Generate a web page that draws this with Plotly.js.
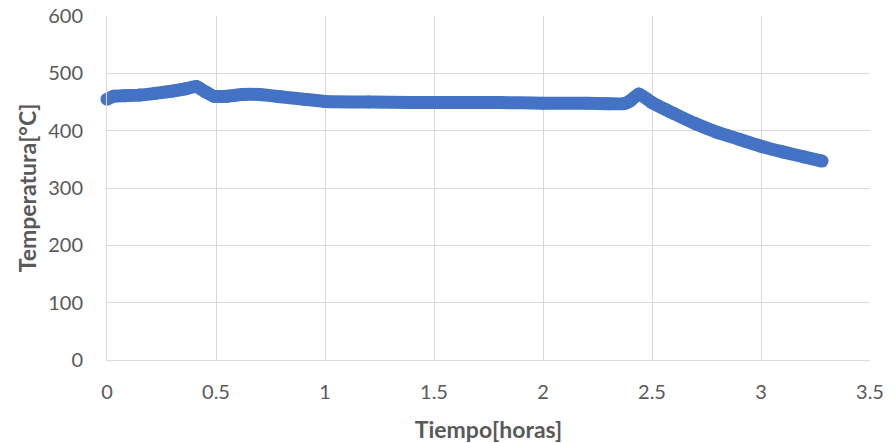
<!DOCTYPE html>
<html>
<head>
<meta charset="utf-8">
<script src="https://cdn.plot.ly/plotly-3.0.1.min.js"></script>
<style>html,body{margin:0;padding:0;background:#fff;}#chart{width:896px;height:443px;}</style>
</head>
<body>
<div id="chart"></div>
<script>
var tiempo = [0, 0.03, 0.08, 0.15, 0.22, 0.3, 0.36, 0.41, 0.45, 0.49, 0.55, 0.62, 0.7, 0.8, 0.9, 1.0, 1.2, 1.4, 1.6, 1.8, 2.0, 2.2, 2.3, 2.37, 2.4, 2.44, 2.5, 2.6, 2.7, 2.8, 2.9, 3.0, 3.1, 3.2, 3.28];
var temperatura = [455, 460, 461, 462, 465, 469, 473, 477, 468, 460, 460, 463, 463, 459, 455, 451, 450, 449, 449, 449, 448, 448, 447, 447, 452, 464, 449, 430, 412, 397, 385, 373, 363, 354, 347];
var xTicks = [0, 0.5, 1, 1.5, 2, 2.5, 3, 3.5];
var yTicks = [0, 100, 200, 300, 400, 500, 600];

var trace = {
  x: tiempo, y: temperatura, type: 'scatter', mode: 'lines+markers',
  line: {color: '#4472C4', width: 13, shape: 'spline', smoothing: 0.4},
  marker: {color: '#4472C4', size: 13},
  cliponaxis: false,
  hoverinfo: 'skip'
};
var layout = {
  width: 896, height: 443,
  margin: {l: 107, r: 26, t: 16, b: 83},
  paper_bgcolor: '#fff', plot_bgcolor: '#fff',
  font: {family: 'Lato, "Open Sans", sans-serif', color: '#595959', size: 20},
  showlegend: false,
  xaxis: {
    range: [0, 3.5], tickvals: xTicks, ticktext: xTicks.map(String),
    showgrid: true, gridcolor: '#d9d9d9', gridwidth: 1,
    zeroline: false, showline: true, linecolor: '#d9d9d9', linewidth: 1,
    ticks: '', ticklabelstandoff: 14,
    tickfont: {size: 20, color: '#595959'},
    title: {text: 'Tiempo[horas]', font: {size: 23, color: '#595959', weight: 'bold'}, standoff: 20}
  },
  yaxis: {
    range: [0, 600], tickvals: yTicks, ticktext: yTicks.map(String),
    showgrid: true, gridcolor: '#d9d9d9', gridwidth: 1,
    zeroline: false, showline: true, linecolor: '#d9d9d9', linewidth: 1,
    ticks: '', ticklabelstandoff: 19,
    tickfont: {size: 20, color: '#595959'},
    title: {text: 'Temperatura[°C]', font: {size: 23, color: '#595959', weight: 'bold'}, standoff: 5}
  }
};
Plotly.newPlot('chart', [trace], layout, {displayModeBar: false, staticPlot: true});
</script>
</body>
</html>
